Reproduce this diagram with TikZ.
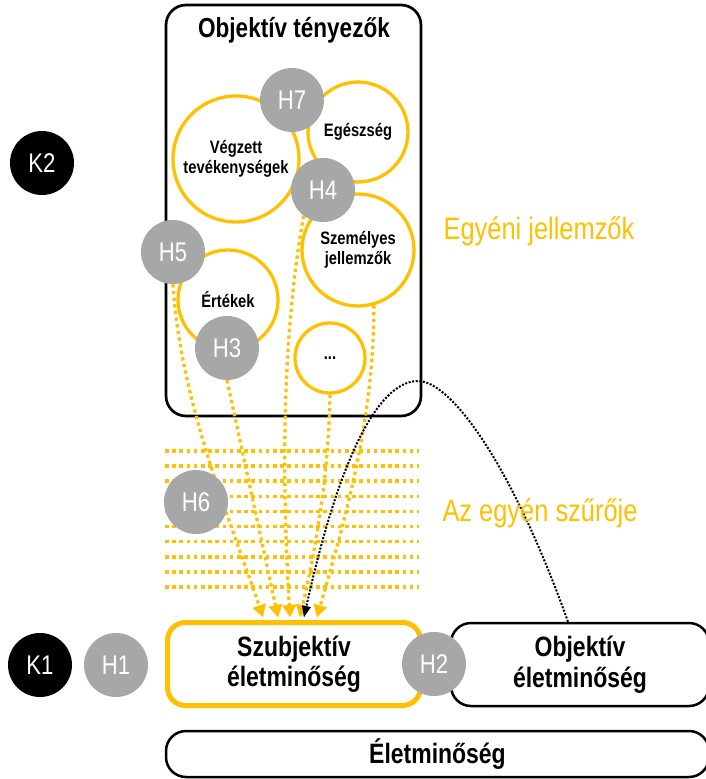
\documentclass[tikz,border=0pt]{standalone}
\usepackage{fontspec}
\setmainfont{Liberation Sans}[FakeStretch=0.82]
\usetikzlibrary{arrows.meta}
\definecolor{ygold}{RGB}{255,192,0}
\definecolor{hgray}{RGB}{166,168,167}
\pgfdeclarelayer{back}
\pgfdeclarelayer{mid}
\pgfsetlayers{back,mid,main}
\begin{document}
\begin{tikzpicture}[x=1pt,y=-1pt,
  hcirc/.style={circle, fill=hgray, text=white, minimum size=64pt, inner sep=0pt, font=\fontsize{27}{29}\selectfont},
  kcirc/.style={hcirc, fill=black},
  ring/.style={circle, draw=ygold, line width=3.3pt, inner sep=0pt, minimum size=#1, align=center, font=\bfseries\fontsize{18}{19.5}\selectfont},
  ebox/.style={draw=black, line width=2.5pt, rounded corners=20pt, fill=white, inner sep=0pt, align=center, font=\bfseries\fontsize{28}{30.5}\selectfont},
  yline/.style={ygold, line width=3.6pt, dash pattern=on 3.6pt off 3.6pt},
  yarr/.style={ygold, line width=3.3pt, dash pattern=on 3.3pt off 3.4pt, -{Triangle[length=12pt,width=14pt,line width=0.1pt]}},
  barr/.style={black, line width=2pt, dash pattern=on 2pt off 1.6pt, -{Triangle[length=11pt,width=9pt,line width=0.1pt]}},
  ytext/.style={text=ygold, font=\fontsize{31}{33}\selectfont, anchor=base, inner sep=0pt}
]
\useasboundingbox (0,0) rectangle (706,779);

% container
\begin{pgfonlayer}{back}
\node[draw=black, fill=white, line width=2.7pt, rounded corners=20pt, minimum width=255pt, minimum height=411pt, inner sep=0pt] (objbox) at (293.5,210.5) {};
\foreach \i in {0,...,9}
  \draw[yline] (165,{451+15.1*\i}) -- (419,{451+15.1*\i});
\end{pgfonlayer}

\node[anchor=base, inner sep=0pt, font=\bfseries\fontsize{27.5}{29}\selectfont] (title) at (294,37) {Objektív tényezők};

% rings
\node[ring=126pt] (vegzett) at (236,159) {Végzett\\tevékenységek};
\node[ring=100pt] (egeszseg) at (358,132) {Egészség};
\node[ring=112pt] (szemelyes) at (358,250) {Személyes\\jellemzők};
\node[ring=100pt] (ertekek) at (228,300) {Értékek};
\node[ring=70pt] (etc) at (330,358) {...};

% bottom boxes
\node[ebox, minimum width=258pt, minimum height=83pt] (objem) at (580,664.5) {Objektív\\életminőség};
\node[ebox, draw=ygold, line width=5pt, rounded corners=18pt, minimum width=253pt, minimum height=83pt] (szub) at (294,664) {Szubjektív\\életminőség};
\node[ebox, minimum width=543pt, minimum height=46pt] (elet) at (437.5,754) {Életminőség};

% gray / black circles
\node[hcirc] (H7) at (292,100) {H7};
\node[hcirc] (H4) at (323,190) {H4};
\node[hcirc] (H5) at (173,252) {H5};
\node[hcirc] (H3) at (227,348) {H3};
\node[hcirc] (H6) at (196,502) {H6};
\node[hcirc] (H1) at (116,665) {H1};
\node[hcirc] (H2) at (434,664) {H2};
\node[kcirc] (K2) at (42,163) {K2};
\node[kcirc] (K1) at (40,665) {K1};

% yellow labels
\node[ytext] (egyeni) at (539,239) {Egyéni jellemzők};
\node[ytext] (szuro) at (540,521) {Az egyén szűrője};

% connectors
\begin{pgfonlayer}{mid}
\draw[yarr] (H5.south) .. controls (180,400) and (230,520) .. ([xshift=-31pt,yshift=3pt]szub.north);
\draw[yarr] (H3.south) -- ([xshift=-16pt,yshift=3pt]szub.north);
\draw[yarr] (H4.233) .. controls (285,320) and (280,450) .. ([xshift=-4pt,yshift=3pt]szub.north);
\draw[yarr] (etc.south) .. controls (329,460) and (320,530) .. ([xshift=6pt,yshift=3pt]szub.north);
\draw[yarr] (szemelyes.286) .. controls (374,420) and (345,520) .. ([xshift=23pt,yshift=3pt]szub.north);
\draw[barr] ([xshift=-12pt]objem.north) .. controls (510,460) and (450,381) .. (418,381) .. controls (382,381) and (342,445) .. ([xshift=10pt,yshift=3pt]szub.north);
\end{pgfonlayer}
\end{tikzpicture}
\end{document}
